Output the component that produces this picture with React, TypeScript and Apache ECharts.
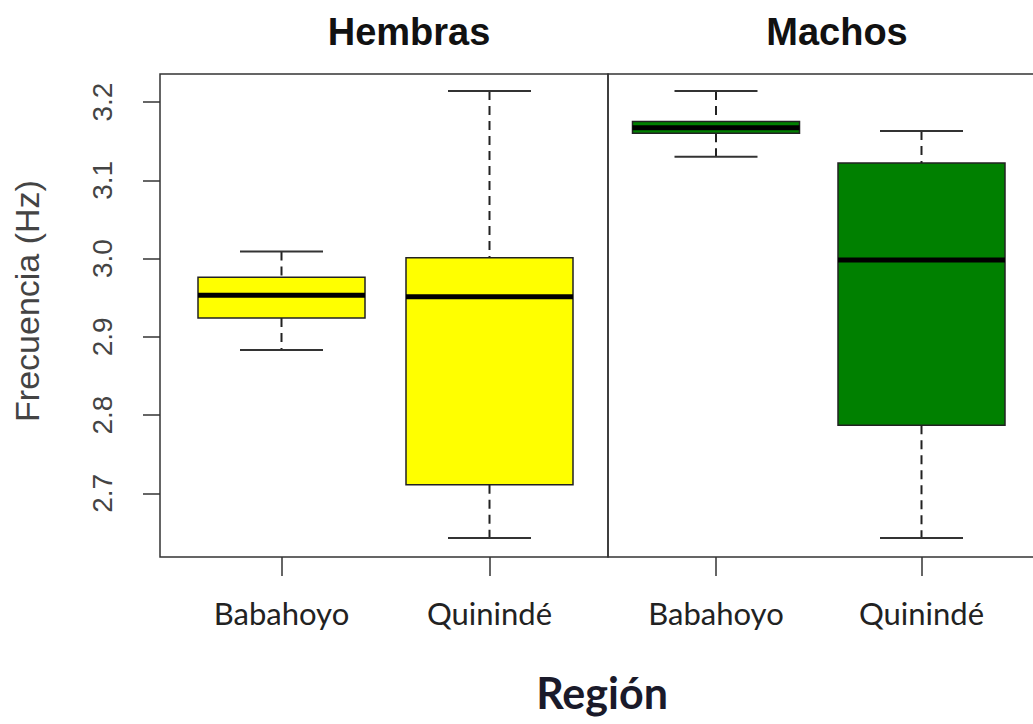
import React, { useEffect, useRef } from "react";
import * as echarts from "echarts";

const panels = ["Hembras", "Machos"];
const categories = ["Babahoyo", "Quinindé"];
// [min, Q1, median, Q3, max]
const hembrasStats = [
  [2.883, 2.924, 2.953, 2.976, 3.009],
  [2.643, 2.711, 2.951, 3.001, 3.214],
];
const machosStats = [
  [3.130, 3.160, 3.167, 3.175, 3.214],
  [2.643, 2.787, 2.998, 3.122, 3.163],
];
const yTicks = [2.7, 2.8, 2.9, 3.0, 3.1, 3.2];
const xTicks = [1, 2];
const axisTitleY = "Frecuencia (Hz)";
const axisTitleX = "Región";

const makeRender = (fill: string) => (params: any, api: any) => {
  const x = api.value(0);
  const low = api.coord([x, api.value(1)]);
  const q1 = api.coord([x, api.value(2)]);
  const med = api.coord([x, api.value(3)]);
  const q3 = api.coord([x, api.value(4)]);
  const high = api.coord([x, api.value(5)]);
  const cx = low[0];
  const hw = 83.5;
  const cw = 41.5;
  const dashStyle = { stroke: "#222", lineWidth: 2, lineDash: [9, 6] };
  const capStyle = { stroke: "#333", lineWidth: 2 };
  return {
    type: "group",
    children: [
      { type: "line", shape: { x1: cx, y1: high[1], x2: cx, y2: q3[1] }, style: dashStyle },
      { type: "line", shape: { x1: cx, y1: q1[1], x2: cx, y2: low[1] }, style: dashStyle },
      { type: "line", shape: { x1: cx - cw, y1: high[1], x2: cx + cw, y2: high[1] }, style: capStyle },
      { type: "line", shape: { x1: cx - cw, y1: low[1], x2: cx + cw, y2: low[1] }, style: capStyle },
      {
        type: "rect",
        shape: { x: cx - hw, y: q3[1], width: 2 * hw, height: q1[1] - q3[1] },
        style: { fill, stroke: "#222", lineWidth: 1.5 },
      },
      {
        type: "line",
        shape: { x1: cx - hw, y1: med[1], x2: cx + hw, y2: med[1] },
        style: { stroke: "#000", lineWidth: 5 },
      },
    ],
  };
};

export default function App() {
  const ref = useRef<HTMLDivElement>(null);
  useEffect(() => {
    document.body.style.margin = "0";
    const chart = echarts.init(ref.current!, null, { renderer: "svg" });
    const yMin = 2.6186;
    const yMax = 3.2358;
    const xAxisCommon = (min: number, max: number, idx: number) => ({
      type: "value",
      gridIndex: idx,
      min,
      max,
      splitLine: { show: false },
      axisLine: { show: false },
      axisTick: {
        show: true,
        length: 19,
        customValues: xTicks,
        lineStyle: { color: "#333", width: 1.5 },
      },
      axisLabel: {
        customValues: xTicks,
        margin: 40,
        color: "#222",
        fontFamily: "Lato",
        fontSize: 31,
        formatter: (v: number) => {
          const i = Math.round(v) - 1;
          return Math.abs(v - Math.round(v)) < 1e-6 && categories[i] ? categories[i] : "";
        },
      },
    });
    const mMin = 1 - 108 / 205.5;
    chart.setOption({
      animation: false,
      backgroundColor: "#fff",
      title: [
        {
          text: panels[0],
          left: 404,
          top: 8,
          textAlign: "center",
          textStyle: { fontFamily: "Liberation Sans", fontWeight: "bold", fontSize: 38, color: "#111" },
        },
        {
          text: panels[1],
          left: 832,
          top: 8,
          textAlign: "center",
          textStyle: { fontFamily: "Liberation Sans", fontWeight: "bold", fontSize: 38, color: "#111" },
        },
        {
          text: axisTitleX,
          left: 597,
          top: 666,
          textAlign: "center",
          textStyle: { fontFamily: "Lato", fontWeight: "bold", fontSize: 43, color: "#1a1a2a" },
        },
      ],
      graphic: [
        {
          type: "text",
          x: 27,
          y: 301,
          rotation: Math.PI / 2,
          style: {
            text: axisTitleY,
            fontFamily: "Liberation Sans",
            fontSize: 34,
            fill: "#444",
            align: "center",
            verticalAlign: "middle",
          },
        },
        {
          type: "polyline",
          shape: { points: [[1045, 74], [608, 74], [608, 557], [1045, 557]] },
          style: { stroke: "#333", lineWidth: 1.5, fill: "none" },
        },
      ],
      grid: [
        { left: 160, top: 74, width: 448, height: 483, show: true, borderColor: "#333", borderWidth: 1.5, backgroundColor: "transparent" },
        { left: 608, top: 74, width: 425, height: 483, show: false },
      ],
      xAxis: [
        xAxisCommon(1 - 121.5 / 208, 2 + 118.5 / 208, 0),
        xAxisCommon(mMin, mMin + 425 / 205.5, 1),
      ],
      yAxis: [
        {
          type: "value",
          gridIndex: 0,
          min: yMin,
          max: yMax,
          splitLine: { show: false },
          axisLine: { show: false },
          axisTick: { show: true, length: 17, customValues: yTicks, lineStyle: { color: "#333", width: 1.5 } },
          axisLabel: {
            customValues: yTicks,
            rotate: 90,
            margin: 44,
            color: "#444",
            fontFamily: "Liberation Sans",
            fontSize: 28,
            formatter: (v: number) => v.toFixed(1),
          },
        },
        { type: "value", gridIndex: 1, min: yMin, max: yMax, show: false },
      ],
      series: [
        {
          type: "custom",
          name: panels[0],
          xAxisIndex: 0,
          yAxisIndex: 0,
          renderItem: makeRender("#ffff00"),
          data: hembrasStats.map((s, i) => [i + 1, ...s]),
          encode: { x: 0, y: [1, 2, 3, 4, 5] },
        },
        {
          type: "custom",
          name: panels[1],
          xAxisIndex: 1,
          yAxisIndex: 1,
          renderItem: makeRender("#008000"),
          data: machosStats.map((s, i) => [i + 1, ...s]),
          encode: { x: 0, y: [1, 2, 3, 4, 5] },
        },
      ],
    });
    return () => chart.dispose();
  }, []);
  return <div ref={ref} style={{ width: 1033, height: 724 }} />;
}
